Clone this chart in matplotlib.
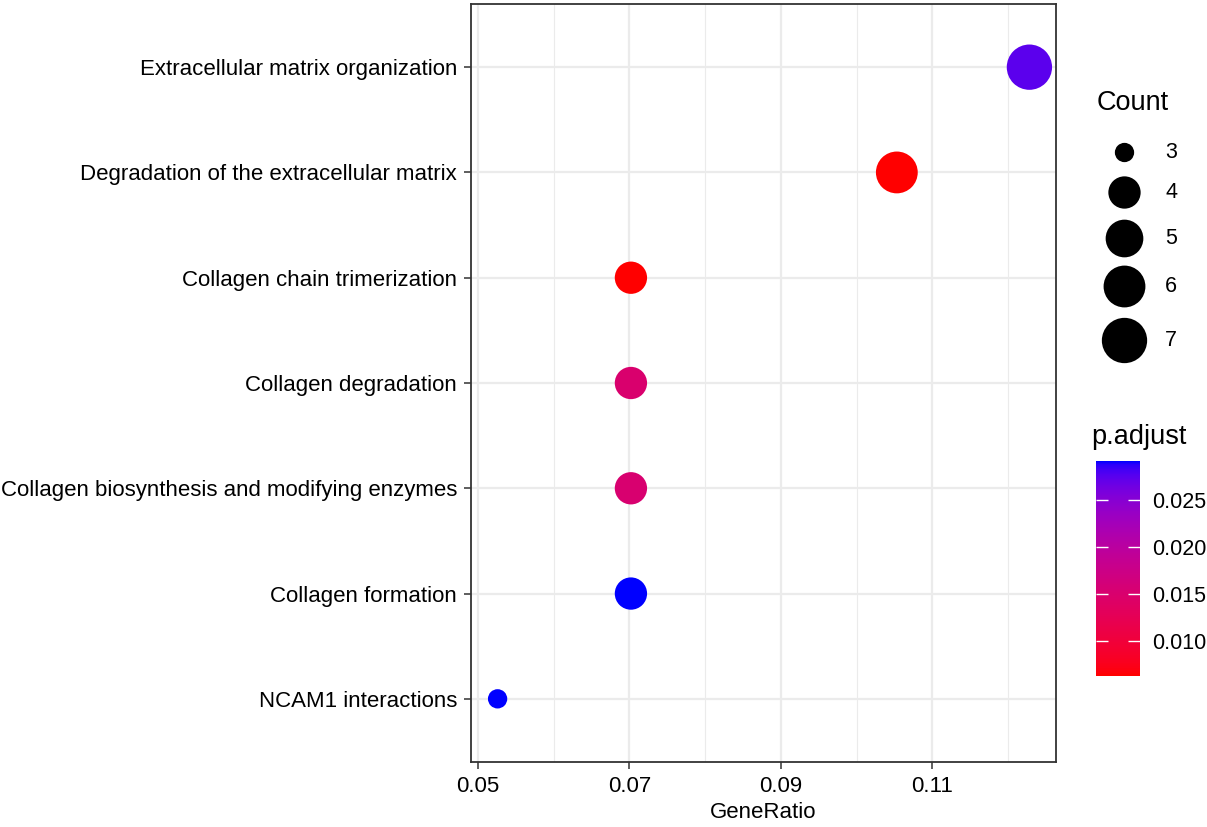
import numpy as np
import matplotlib
matplotlib.use("Agg")
import matplotlib.pyplot as plt
from matplotlib.colors import ListedColormap, Normalize
from matplotlib.colorbar import ColorbarBase

plt.rcParams['font.family'] = ['Liberation Sans', 'DejaVu Sans']

# ---------------- data ----------------
pathways = [
    "Extracellular matrix organization",
    "Degradation of the extracellular matrix",
    "Collagen chain trimerization",
    "Collagen degradation",
    "Collagen biosynthesis and modifying enzymes",
    "Collagen formation",
    "NCAM1 interactions",
]
gene_ratio = [0.1228, 0.1053, 0.0702, 0.0702, 0.0702, 0.0702, 0.0526]
counts = [7, 6, 4, 4, 4, 4, 3]
p_adjust = [0.0275, 0.0063, 0.0063, 0.0150, 0.0152, 0.0292, 0.0292]

x_ticks = [0.05, 0.07, 0.09, 0.11]
x_tick_labels = ["0.05", "0.07", "0.09", "0.11"]
x_minor = [0.06, 0.08, 0.10, 0.12]
count_breaks = [3, 4, 5, 6, 7]
p_breaks = [0.010, 0.015, 0.020, 0.025]
p_break_labels = ["0.010", "0.015", "0.020", "0.025"]

# ---------------- helpers ----------------
def srgb_to_lab(rgb):
    rgb = np.asarray(rgb, float)
    lin = np.where(rgb <= 0.04045, rgb / 12.92, ((rgb + 0.055) / 1.055) ** 2.4)
    M = np.array([[0.4124, 0.3576, 0.1805],
                  [0.2126, 0.7152, 0.0722],
                  [0.0193, 0.1192, 0.9505]])
    xyz = M @ lin
    xyz = xyz / np.array([0.95047, 1.0, 1.08883])
    f = np.where(xyz > 0.008856, np.cbrt(xyz), 7.787 * xyz + 16 / 116)
    return np.array([116 * f[1] - 16, 500 * (f[0] - f[1]), 200 * (f[1] - f[2])])

def lab_to_srgb(lab):
    L, a, b = lab
    fy = (L + 16) / 116
    fx = fy + a / 500
    fz = fy - b / 200
    f = np.array([fx, fy, fz])
    xyz = np.where(f ** 3 > 0.008856, f ** 3, (f - 16 / 116) / 7.787)
    xyz = xyz * np.array([0.95047, 1.0, 1.08883])
    Minv = np.array([[3.2406, -1.5372, -0.4986],
                     [-0.9689, 1.8758, 0.0415],
                     [0.0557, -0.2040, 1.0570]])
    lin = Minv @ xyz
    lin = np.clip(lin, 0, 1)
    rgb = np.where(lin <= 0.0031308, 12.92 * lin, 1.055 * lin ** (1 / 2.4) - 0.055)
    return np.clip(rgb, 0, 1)

lab_low = srgb_to_lab([1, 0, 0])
lab_high = srgb_to_lab([0, 0, 1])

def grad_color(t):
    return lab_to_srgb(lab_low + (lab_high - lab_low) * t)

cmap = ListedColormap([grad_color(t) for t in np.linspace(0, 1, 256)])
pmin, pmax = min(p_adjust), max(p_adjust)
norm = Normalize(pmin, pmax)

cmin, cmax = min(counts), max(counts)
DPI = 100

def diam_px(c):
    size = 3 + 5 * np.sqrt((c - cmin) / (cmax - cmin))
    return 5.2 * size + 3.7

def marker_area(c):
    d_pt = diam_px(c) * 72 / DPI
    return d_pt ** 2

# ---------------- figure ----------------
W, H = 1207, 827
fig = plt.figure(figsize=(W / DPI, H / DPI), dpi=DPI)

L, R, T, B = 471, 1056, 4, 762
ax = fig.add_axes([L / W, 1 - B / H, (R - L) / W, (B - T) / H])

ypos = np.arange(len(pathways))
colors = [cmap(norm(p)) for p in p_adjust]
ax.scatter(gene_ratio, ypos, s=[marker_area(c) for c in counts], c=colors,
           linewidths=0, zorder=3)

rng = max(gene_ratio) - min(gene_ratio)
ax.set_xlim(min(gene_ratio) - 0.05 * rng, max(gene_ratio) + 0.05 * rng)
ax.set_ylim(len(pathways) - 1 + 0.6, -0.6)

ax.set_xticks(x_ticks)
ax.set_xticklabels(x_tick_labels)
ax.set_xticks(x_minor, minor=True)
ax.set_yticks(ypos)
ax.set_yticklabels(pathways)

ax.grid(True, which='major', color='#EBEBEB', linewidth=1.6, zorder=0)
ax.grid(True, which='minor', axis='x', color='#EBEBEB', linewidth=0.8, zorder=0)
ax.set_axisbelow(True)

for sp in ax.spines.values():
    sp.set_color('#333333')
    sp.set_linewidth(1.3)

ax.tick_params(axis='both', which='major', length=5, width=1.1, color='#333333',
               labelsize=16, labelcolor='black', pad=5)
ax.tick_params(axis='x', which='minor', length=0)
ax.set_xlabel("GeneRatio", fontsize=16, labelpad=4)

# ---------------- legends (drawn in figure pixel space) ----------------
ov = fig.add_axes([0, 0, 1, 1], facecolor='none')
ov.set_xlim(0, W)
ov.set_ylim(H, 0)
ov.axis('off')

ov.text(1097, 103, "Count", fontsize=19.5, va='center', ha='left')
leg_y = [152, 192, 238, 286, 340]
for c, yy in zip(count_breaks, leg_y):
    ov.scatter([1124], [yy], s=marker_area(c), c='black', linewidths=0)
    ov.text(1165, yy, str(c), fontsize=15.5, va='center', ha='left')

ov.text(1091, 437, "p.adjust", fontsize=19.5, va='center', ha='left')

cb_l, cb_r, cb_t, cb_b = 1096, 1140, 461, 676
cax = fig.add_axes([cb_l / W, 1 - cb_b / H, (cb_r - cb_l) / W, (cb_b - cb_t) / H])
cb = ColorbarBase(cax, cmap=cmap, norm=norm, orientation='vertical')
cb.outline.set_visible(False)
cb.set_ticks(p_breaks)
cb.set_ticklabels(p_break_labels)
cax.tick_params(direction='in', length=8.5, width=1, color='white',
                left=True, right=True, labelleft=False, labelright=True,
                labelsize=15.5, pad=9)

fig.savefig("out.png", dpi=DPI)
